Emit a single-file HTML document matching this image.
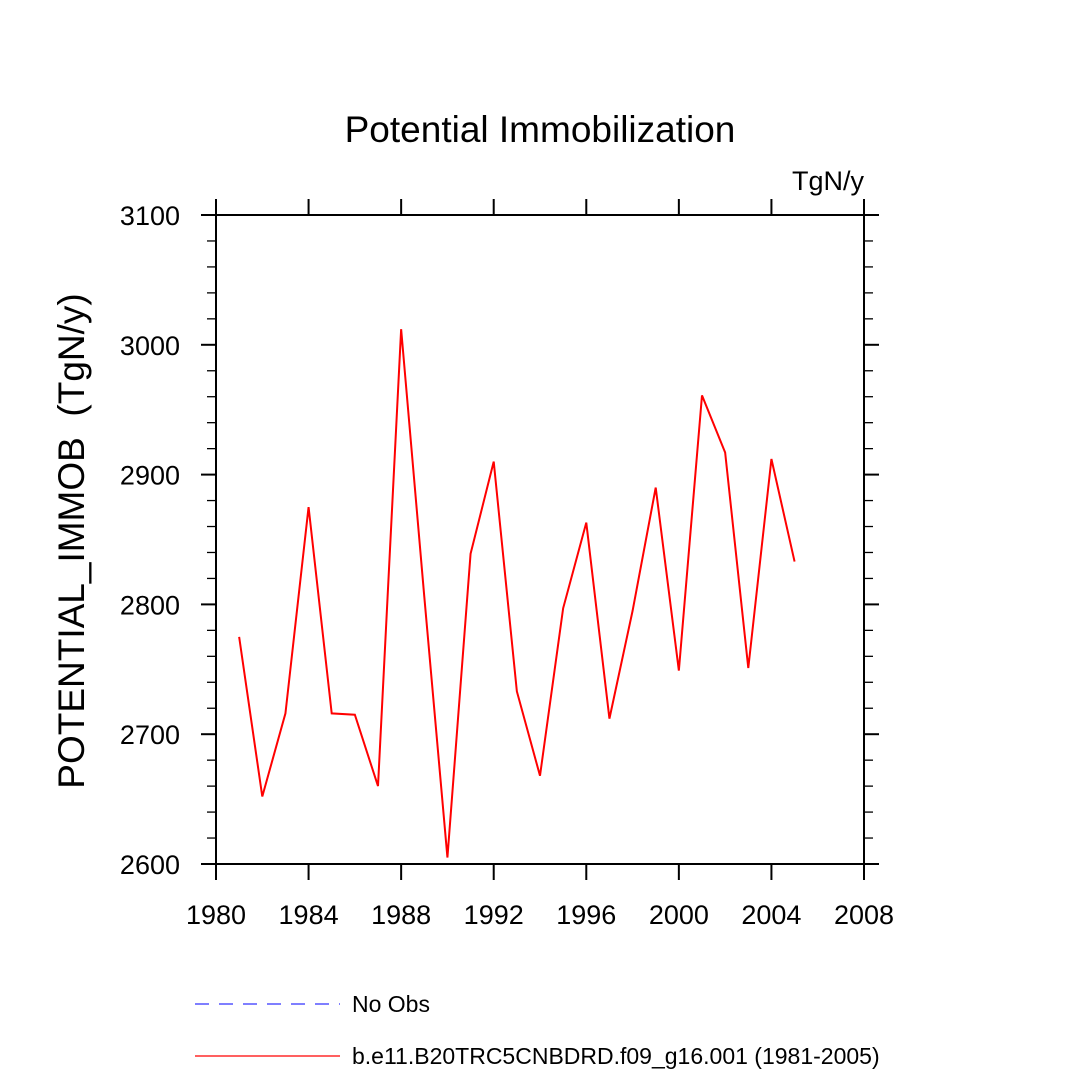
<!DOCTYPE html>
<html><head><meta charset="utf-8"><style>
body{margin:0;background:#fff;}
svg text{font-family:"Liberation Sans",sans-serif;fill:#000;}
</style></head><body>
<svg id="chart" width="1080" height="1080" viewBox="0 0 1080 1080" xmlns="http://www.w3.org/2000/svg">
<rect width="1080" height="1080" fill="#fff"/>
<text x="540" y="142" font-size="37" text-anchor="middle">Potential Immobilization</text>
<text x="864" y="190" font-size="27" text-anchor="end">TgN/y</text>
<text transform="translate(84,541) rotate(-90)" font-size="37" text-anchor="middle" xml:space="preserve">POTENTIAL_IMMOB  (TgN/y)</text>
<g id="axes"></g>
<g id="series"></g>
<g>
<line x1="195" y1="1004" x2="340" y2="1004" stroke="#3333ff" stroke-width="1.3" stroke-dasharray="14,10"/>
<text x="352" y="1012" font-size="23">No Obs</text>
<line x1="195" y1="1056" x2="340" y2="1056" stroke="#ff0000" stroke-width="1.3"/>
<text x="352" y="1064" font-size="23">b.e11.B20TRC5CNBDRD.f09_g16.001 (1981-2005)</text>
</g>
</svg>
<script>
const years=[1981,1982,1983,1984,1985,1986,1987,1988,1989,1990,1991,1992,1993,1994,1995,1996,1997,1998,1999,2000,2001,2002,2003,2004,2005];
const values=[2775,2652,2716,2875,2716,2715,2660,3012,2806,2605,2839,2910,2733,2668,2797,2863,2712,2795,2890,2749,2961,2917,2751,2912,2833];
const xTicks=[1980,1984,1988,1992,1996,2000,2004,2008];
const yTicks=[2600,2700,2800,2900,3000,3100];
const X0=216,X1=864,Y0=864,Y1=215;
const xs=v=>X0+(v-1980)/(2008-1980)*(X1-X0);
const ys=v=>Y0-(v-2600)/(3100-2600)*(Y0-Y1);
const NS="http://www.w3.org/2000/svg";
const axes=document.getElementById('axes');
function mk(tag,attrs,parent){const e=document.createElementNS(NS,tag);for(const k in attrs)e.setAttribute(k,attrs[k]);parent.appendChild(e);return e;}
const frame=mk('rect',{x:X0,y:Y1,width:X1-X0,height:Y0-Y1,fill:'none',stroke:'#000','stroke-width':2},axes);


xTicks.forEach(t=>{const x=xs(t);
 const a=mk('line',{x1:x,y1:Y0,x2:x,y2:Y0+16,stroke:'#000','stroke-width':2},axes);
 
 
 const b=mk('line',{x1:x,y1:Y1,x2:x,y2:Y1-16,stroke:'#000','stroke-width':2},axes);
 
 
 const l=mk('text',{x:x,y:Y0+60,'font-size':27,'text-anchor':'middle'},axes);l.textContent=t;
 
 
});
for(let v=2600;v<=3100;v+=20){const y=ys(v);const major=(v%100===0);const len=major?15:9;
 const a=mk('line',{x1:X0-len,y1:y,x2:X0,y2:y,stroke:'#000','stroke-width':major?2:1.3},axes);
 
 
 const b=mk('line',{x1:X1,y1:y,x2:X1+len,y2:y,stroke:'#000','stroke-width':major?2:1.3},axes);
 
 
}
yTicks.forEach(t=>{const l=mk('text',{x:180,y:ys(t)+10,'font-size':27,'text-anchor':'end'},axes);l.textContent=t;
 
 
});
const pts=years.map((y,i)=>xs(y)+','+ys(values[i])).join(' ');
const line=mk('polyline',{points:pts,fill:'none',stroke:'#ff0000','stroke-width':2},document.getElementById('series'));


</script>
</body></html>
